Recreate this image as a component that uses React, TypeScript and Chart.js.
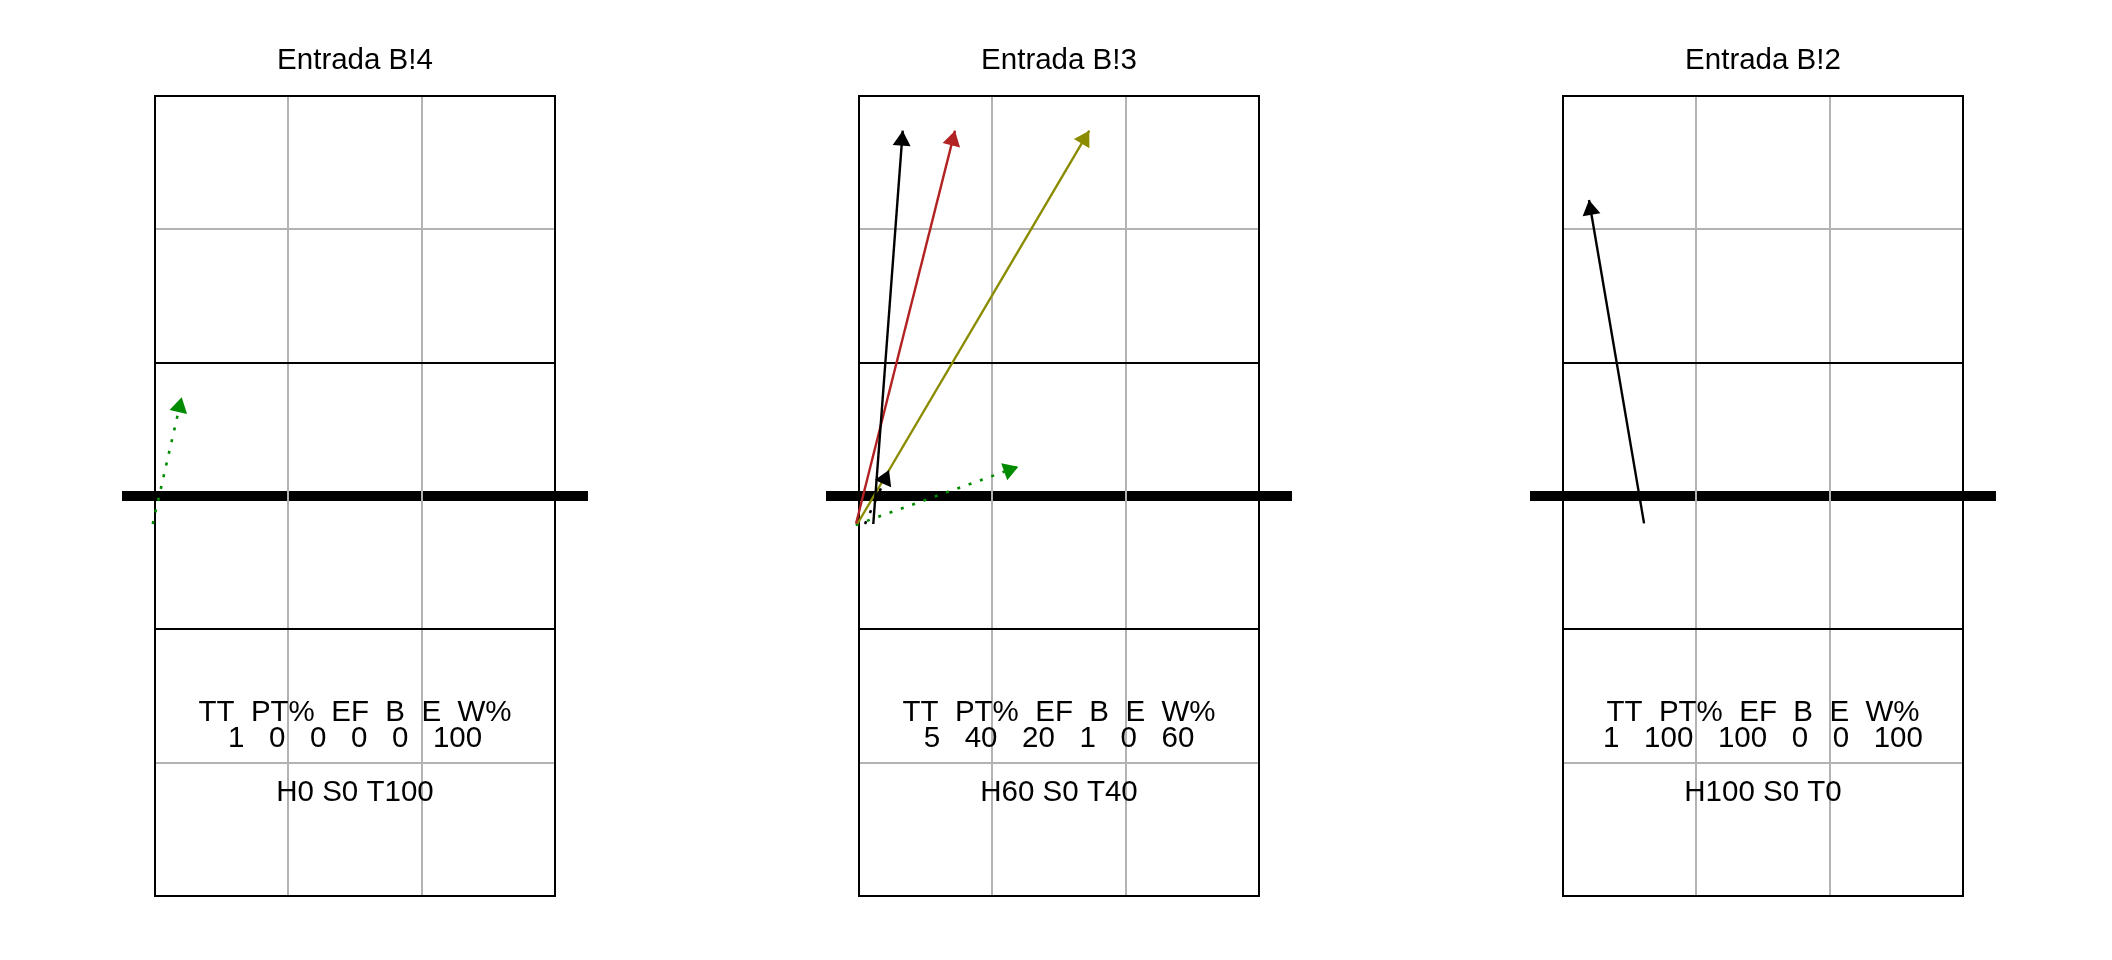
import React, { useEffect, useRef } from "react";
import { Chart, registerables } from "chart.js";

Chart.register(...registerables);

// ---- data ----
const PANEL_TITLES = ["Entrada B!4", "Entrada B!3", "Entrada B!2"];
const STAT_HEADERS = ["TT", "PT%", "EF", "B", "E", "W%"];
const STAT_VALUES = [
  [1, 0, 0, 0, 0, 100],
  [5, 40, 20, 1, 0, 60],
  [1, 100, 100, 0, 0, 100],
];
const HST_LABELS = ["H0 S0 T100", "H60 S0 T40", "H100 S0 T0"];

// arrows (court coordinates)
const ARROW_PANEL = [0, 1, 1, 1, 1, 1, 2];
const ARROW_X0 = [0.483, 0.607, 0.478, 0.487, 0.475, 0.545, 1.108];
const ARROW_Y0 = [3.29, 3.29, 3.294, 3.29, 3.283, 3.29, 3.295];
const ARROW_X1 = [0.7, 0.828, 1.22, 2.227, 1.695, 0.725, 0.695];
const ARROW_Y1 = [4.24, 6.24, 6.24, 6.24, 3.72, 3.695, 5.72];
const ARROW_COLORS = ["#008B00", "#000000", "#B22222", "#8B8B00", "#008B00", "#000000", "#000000"];
const ARROW_DOTTED = [true, false, false, false, true, true, false];

// court geometry
const COURT_X = [0.5, 3.5];
const COURT_Y = [0.5, 6.5];
const BLACK_Y_LINES = [0.5, 2.5, 4.5, 6.5];
const GRAY_X_LINES = [1.5, 2.5];
const GRAY_Y_LINES = [1.5, 5.5];
const NET_Y = 3.5;
const NET_X = [0.25, 3.75];
const X_RANGE = [-0.6625, 4.6175];
const Y_RANGE = [0.02, 7.22];

// text placement (court coordinates)
const TEXT_X = 2.0;
const TITLE_Y = 6.7025;
const STAT_LINE1_Y = 1.815;
const STAT_LINE2_Y = 1.6175;
const HST_Y = 1.2125;

const FONT = '29.5px "Liberation Sans", Arial, sans-serif';
const PANEL_W = 704;
const PANEL_H = 960;

const courtPlugin = {
  id: "court",
  beforeDatasetsDraw(chart: any, _args: any, opts: any) {
    const { ctx } = chart;
    const xs = chart.scales.x;
    const ys = chart.scales.y;
    const px = (v: number) => Math.round(xs.getPixelForValue(v));
    const py = (v: number) => Math.round(ys.getPixelForValue(v));
    const seg = (x0: number, y0: number, x1: number, y1: number) => {
      ctx.beginPath();
      ctx.moveTo(px(x0), py(y0));
      ctx.lineTo(px(x1), py(y1));
      ctx.stroke();
    };
    ctx.save();
    ctx.lineCap = "butt";
    // net
    ctx.strokeStyle = "#000000";
    ctx.lineWidth = 10;
    seg(NET_X[0], NET_Y, NET_X[1], NET_Y);
    // gray zone lines
    ctx.strokeStyle = "#B3B3B3";
    ctx.lineWidth = 2;
    GRAY_X_LINES.forEach((gx) => seg(gx, COURT_Y[0], gx, COURT_Y[1]));
    GRAY_Y_LINES.forEach((gy) => seg(COURT_X[0], gy, COURT_X[1], gy));
    // black court lines
    ctx.strokeStyle = "#000000";
    ctx.lineWidth = 2;
    ctx.lineCap = "square";
    COURT_X.forEach((cx) => seg(cx, COURT_Y[0], cx, COURT_Y[1]));
    BLACK_Y_LINES.forEach((cy) => seg(COURT_X[0], cy, COURT_X[1], cy));

    // texts
    const p = opts.panel;
    ctx.fillStyle = "#000000";
    ctx.font = FONT;
    ctx.textAlign = "center";
    ctx.textBaseline = "alphabetic";
    ctx.fillText(PANEL_TITLES[p], px(TEXT_X), py(TITLE_Y));
    ctx.fillText(STAT_HEADERS.join("  "), px(TEXT_X), py(STAT_LINE1_Y));
    ctx.fillText(STAT_VALUES[p].join("   "), px(TEXT_X), py(STAT_LINE2_Y));
    ctx.fillText(HST_LABELS[p], px(TEXT_X), py(HST_Y));
    ctx.restore();
  },
  afterDatasetsDraw(chart: any) {
    const { ctx } = chart;
    const L = 15;
    const W = 9;
    chart.data.datasets.forEach((ds: any, i: number) => {
      const meta = chart.getDatasetMeta(i);
      const a = meta.data[0];
      const b = meta.data[meta.data.length - 1];
      if (!a || !b) return;
      const ang = Math.atan2(b.y - a.y, b.x - a.x);
      const c = Math.cos(ang);
      const s = Math.sin(ang);
      const bx = b.x - L * c;
      const by = b.y - L * s;
      ctx.save();
      ctx.fillStyle = ds.borderColor;
      ctx.beginPath();
      ctx.moveTo(b.x, b.y);
      ctx.lineTo(bx - W * s, by + W * c);
      ctx.lineTo(bx + W * s, by - W * c);
      ctx.closePath();
      ctx.fill();
      ctx.restore();
    });
  },
};

function Panel({ index }: { index: number }) {
  const ref = useRef<HTMLCanvasElement | null>(null);
  useEffect(() => {
    if (!ref.current) return;
    const datasets: any[] = [];
    ARROW_PANEL.forEach((pn, i) => {
      if (pn !== index) return;
      datasets.push({
        data: [
          { x: ARROW_X0[i], y: ARROW_Y0[i] },
          { x: ARROW_X1[i], y: ARROW_Y1[i] },
        ],
        showLine: true,
        borderColor: ARROW_COLORS[i],
        backgroundColor: ARROW_COLORS[i],
        borderWidth: ARROW_DOTTED[i] ? 2.6 : 2.4,
        borderDash: ARROW_DOTTED[i] ? [3, 9] : [],
        pointRadius: 0,
        pointHoverRadius: 0,
        tension: 0,
      });
    });
    const chart = new Chart(ref.current, {
      type: "scatter",
      data: { datasets },
      options: {
        animation: false,
        responsive: false,
        events: [],
        layout: { padding: 0 },
        plugins: {
          legend: { display: false },
          tooltip: { enabled: false },
          title: { display: false },
          court: { panel: index },
        } as any,
        scales: {
          x: { type: "linear", min: X_RANGE[0], max: X_RANGE[1], display: false },
          y: { type: "linear", min: Y_RANGE[0], max: Y_RANGE[1], display: false },
        },
      },
      plugins: [courtPlugin as any],
    });
    return () => chart.destroy();
  }, [index]);
  return (
    <canvas
      ref={ref}
      width={PANEL_W}
      height={PANEL_H}
      style={{ display: "block", width: PANEL_W, height: PANEL_H }}
    />
  );
}

export default function App() {
  return (
    <div
      style={{
        position: "fixed",
        left: 0,
        top: 0,
        width: PANEL_W * 3,
        height: PANEL_H,
        display: "flex",
        background: "#ffffff",
      }}
    >
      {PANEL_TITLES.map((_, i) => (
        <Panel key={i} index={i} />
      ))}
    </div>
  );
}
